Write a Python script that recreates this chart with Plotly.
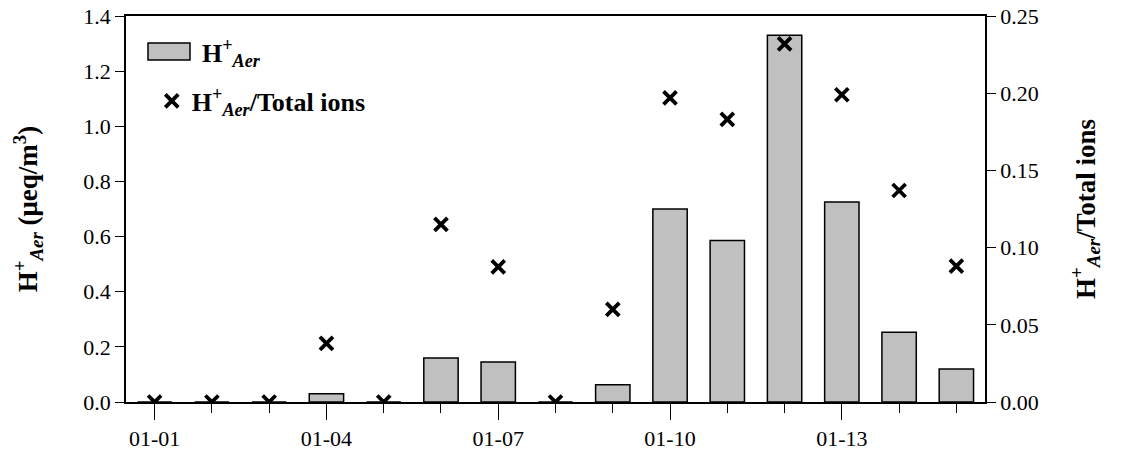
import plotly.graph_objects as go

year = 2015
categories = ["01-01", "01-02", "01-03", "01-04", "01-05", "01-06", "01-07", "01-08",
              "01-09", "01-10", "01-11", "01-12", "01-13", "01-14", "01-15"]
h_aer = [0, 0, 0, 0.03, 0, 0.16, 0.145, 0, 0.063, 0.70, 0.586, 1.33, 0.725, 0.253, 0.12]
ratio = [0, 0, 0, 0.038, 0, 0.115, 0.0875, 0, 0.060, 0.197, 0.183, 0.232, 0.199, 0.137, 0.088]
left_ticks = [0.0, 0.2, 0.4, 0.6, 0.8, 1.0, 1.2, 1.4]
right_ticks = [0.00, 0.05, 0.10, 0.15, 0.20, 0.25]

dates = [f"{year}-{c}" for c in categories]
DAY = 86400000
FONT = "Times New Roman, Liberation Serif, Times, serif"
TICK_SIZE = 22
TITLE_SIZE = 27
LEG_SIZE = 26

bar_name = "<b>H<sup>+</sup><sub><i>Aer</i></sub></b>"
ratio_name = "<b>H<sup>+</sup><sub><i>Aer</i></sub>/Total ions</b>"

fig = go.Figure()
fig.add_trace(go.Bar(
    x=dates, y=h_aer, width=0.6 * DAY,
    marker=dict(color="#c0c0c0", line=dict(color="black", width=1.5)),
    name=bar_name, showlegend=False,
))
fig.add_trace(go.Scatter(
    x=dates, y=ratio, yaxis="y2", mode="markers",
    marker=dict(symbol="x-thin", size=13, line=dict(color="black", width=3.8), color="black"),
    name=ratio_name, showlegend=True,
))

# legend entry for the bars (wide rectangle like the original)
fig.add_shape(type="rect", xref="paper", yref="paper",
              x0=0.0256, x1=0.0745, y0=0.886, y1=0.930,
              fillcolor="#c0c0c0", line=dict(color="black", width=1.5))
fig.add_annotation(xref="paper", yref="paper", x=0.086, y=0.905,
                   xanchor="left", yanchor="middle", showarrow=False,
                   text=bar_name, font=dict(size=LEG_SIZE, family=FONT, color="black"))

fig.update_layout(
    width=1122, height=468,
    margin=dict(l=126, r=137, t=16, b=66, autoexpand=False),
    plot_bgcolor="white", paper_bgcolor="white",
    font=dict(family=FONT, size=TICK_SIZE, color="black"),
    showlegend=True,
    legend=dict(x=0.03, y=0.78, xanchor="left", yanchor="middle",
                bgcolor="rgba(0,0,0,0)", font=dict(size=LEG_SIZE, family=FONT)),
    xaxis=dict(
        type="date", automargin=False,
        range=[f"{year - 1}-12-31 12:00", f"{year}-01-15 12:00"],
        tick0=f"{year}-01-01", dtick=3 * DAY, tickformat="%m-%d",
        ticks="outside", ticklen=16, tickwidth=1.2, tickcolor="black",
        minor=dict(dtick=DAY, tick0=f"{year}-01-01", ticks="outside", ticklen=9,
                   tickwidth=1.2, tickcolor="black"),
        showline=True, linecolor="black", linewidth=1.5, mirror=True,
        showgrid=False, zeroline=False,
        tickfont=dict(size=TICK_SIZE, family=FONT),
    ),
    yaxis=dict(
        automargin=False,
        range=[0, 1.4], tickvals=left_ticks, tickformat=".1f",
        ticks="outside", ticklen=9, tickwidth=1.2, tickcolor="black",
        showline=True, linecolor="black", linewidth=1.5,
        showgrid=False, zeroline=False,
        tickfont=dict(size=TICK_SIZE, family=FONT),
        title=dict(text="<b>H<sup>+</sup><sub><i>Aer</i></sub> (μeq/m<sup>3</sup>)</b>",
                   font=dict(size=TITLE_SIZE, family=FONT), standoff=38),
    ),
    yaxis2=dict(
        automargin=False,
        overlaying="y", side="right",
        range=[0, 0.25], tickvals=right_ticks, tickformat=".2f",
        ticks="outside", ticklen=9, tickwidth=1.2, tickcolor="black",
        showline=True, linecolor="black", linewidth=1.5,
        showgrid=False, zeroline=False,
        tickfont=dict(size=TICK_SIZE, family=FONT),
        title=dict(text=ratio_name, font=dict(size=TITLE_SIZE, family=FONT), standoff=38),
    ),
)

fig.write_html("out.html", config={"displayModeBar": False},
               post_script="document.body.style.margin='0';")
